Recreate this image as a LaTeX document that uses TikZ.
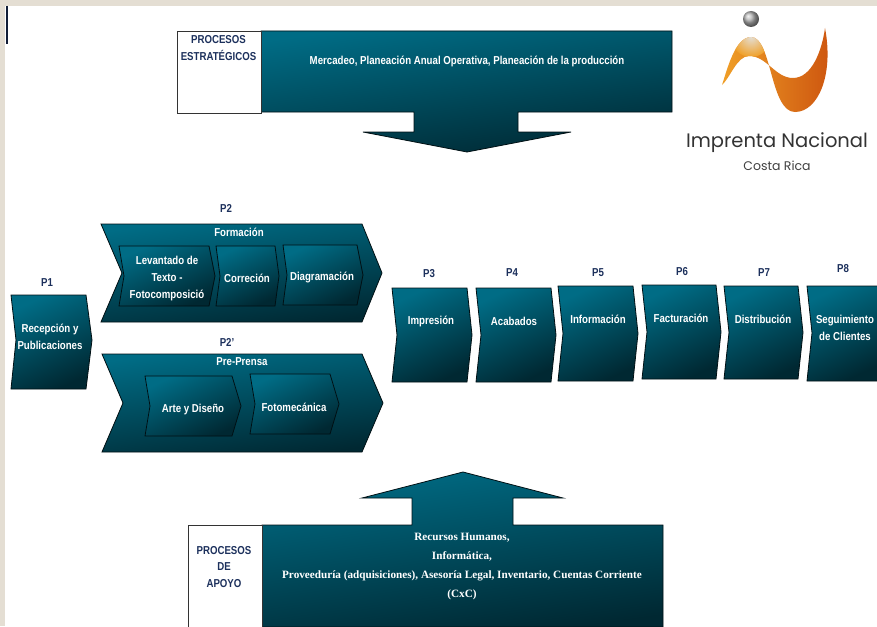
\documentclass[tikz,border=0pt]{standalone}
\usepackage{fontspec}
\setmainfont[FakeStretch=0.84]{Liberation Sans}
\newfontfamily\serifapoyo{Liberation Serif}
\newfontfamily\logofont{Poppins}
\usepackage{tikz}
\usetikzlibrary{calc}

\definecolor{tealtop}{RGB}{0,108,133}
\definecolor{tealmid}{RGB}{0,84,104}
\definecolor{tealbot}{RGB}{0,40,50}
\definecolor{navy}{RGB}{28,48,92}
\definecolor{marco}{RGB}{228,222,211}
\definecolor{naranja}{RGB}{240,160,40}
\definecolor{naranjab}{RGB}{205,85,15}

\tikzset{
  x=1pt,y=-1pt,
  pieza/.style={draw=black!60!tealbot,line width=0.8pt,top color=tealtop,middle color=tealmid,bottom color=tealbot,shading angle=25},
  banda/.style={pieza,shading angle=8},
  etq/.style={font=\bfseries\fontsize{11.5}{17}\selectfont,text=white,align=center,inner sep=0pt},
  etqp/.style={font=\bfseries\fontsize{11.5}{16.5}\selectfont,text=navy,align=center,inner sep=0pt},
  caja/.style={draw=black!80,line width=0.8pt,fill=white},
}

\begin{document}
\begin{tikzpicture}

\useasboundingbox (0,0) rectangle (877,626);
\fill[marco] (0,0) rectangle (877,626);
\fill[white] (5,6) rectangle (877,626);
\draw[navy!60!black,line width=1.2pt] (7,6) -- (7,44);

% estrategicos
\shade[banda] (261,31) -- (672,31) -- (672,112) -- (518,112) -- (518,132) -- (571,132)
  -- (467,152) -- (363,132) -- (414,132) -- (414,112) -- (261,112) -- cycle;
\node[caja,minimum width=84,minimum height=82,anchor=north west,inner sep=0pt] (estr) at (177,31) {};
\node[etqp] (estrt) at (218.5,48) {PROCESOS\\ESTRATÉGICOS};
\node[etq] (merc) at (467,61) {Mercadeo, Planeación Anual Operativa, Planeación de la producción};

% logo
\shade[ball color=gray!60] (751,19) circle (8);
\begin{scope}
\clip (722,85) .. controls (727,70) and (735,37) .. (751,37)
  .. controls (772,37) and (770,112) .. (795,112)
  .. controls (818,112) and (834,75) .. (825,28)
  .. controls (822,50) and (812,78) .. (793,78)
  .. controls (775,78) and (767,56) .. (749,56)
  .. controls (737,56) and (730,78) .. (722,85) -- cycle;
\shade[left color=naranja,right color=naranjab] (720,25) rectangle (832,115);
\shade[inner color=marco,outer color=naranja] (751,37) circle (20);
\end{scope}
\node[font=\logofont\fontsize{19.5}{22}\selectfont,text=black!80,inner sep=0pt] (imprenta) at (777,143) {Imprenta Nacional};
\node[font=\logofont\fontsize{12.5}{15}\selectfont,text=black!75,inner sep=0pt] (costa) at (777,166) {Costa Rica};

% P1
\node[etqp] (p1) at (47,283) {P1};
\shade[pieza] (11,295) -- (86,295) -- (92,340) -- (86,389) -- (11,389) -- (16,340) -- cycle;
\node[etq] (recep) at (50,337) {Recepción y\\Publicaciones};

% P2
\node[etqp] (p2) at (226,208) {P2};
\shade[banda] (101,224) -- (362,224) -- (382,273) -- (362,322) -- (101,322) -- (122,273) -- cycle;
\node[etq] (form) at (239,232) {Formación};
\shade[pieza] (119,246) -- (209,246) -- (215,276) -- (209,306) -- (119,306) -- (124,276) -- cycle;
\shade[pieza] (216,246) -- (275,246) -- (279,276) -- (275,306) -- (216,306) -- (220,276) -- cycle;
\shade[pieza] (283,245) -- (357,245) -- (363,275) -- (357,305) -- (283,305) -- (287,275) -- cycle;
\node[etq] (lev) at (167,279) {Levantado de\\Texto -\\Fotocomposició};
\node[etq] (corr) at (247,278) {Correción};
\node[etq] (diag) at (322,277) {Diagramación};

% P2'
\node[etqp] (p2b) at (227,342) {P2'};
\shade[banda] (102,354) -- (362,354) -- (383,403) -- (362,452) -- (102,452) -- (123,403) -- cycle;
\node[etq] (pre) at (242,362) {Pre-Prensa};
\shade[pieza] (145,376) -- (232,376) -- (241,406) -- (232,436) -- (145,436) -- (150,406) -- cycle;
\shade[pieza] (250,374) -- (330,374) -- (339,404) -- (330,434) -- (250,434) -- (255,404) -- cycle;
\node[etq] (arte) at (193,410) {Arte y Diseño};
\node[etq] (foto) at (294,407) {Fotomecánica};

% P3 a P8
\foreach \xa/\xb/\ya/\yb/\tx/\ty/\px/\py/\nm/\pn/\lab in {
  392/467/288/382/431/321/429/274/impr/P3/Impresión,
  476/551/288/382/514/321/512/273/acab/P4/Acabados,
  558/633/286/381/598/319/598/273/info/P5/Información,
  642/716/285/379/681/318/682/272/fact/P6/Facturación,
  724/798/286/379/763/319/764/273/dist/P7/Distribución}
{
  \shade[pieza] (\xa,\ya) -- (\xb,\ya) -- (\xb+5,{(\ya+\yb)/2}) -- (\xb,\yb) -- (\xa,\yb) -- (\xa+5,{(\ya+\yb)/2}) -- cycle;
  \node[etqp] (\nm top) at (\px,\py) {\pn};
  \node[etq] (\nm) at (\tx,\ty) {\lab};
}
\node[etqp] (p8) at (843,269) {P8};
\shade[pieza] (807,286) -- (878,286) -- (878,381) -- (807,381) -- (812,333) -- cycle;
\node[etq] (segu) at (845,328) {Seguimiento\\de Clientes};

% apoyo
\shade[banda] (262,525) -- (412,525) -- (412,498) -- (362,498) -- (463,472) -- (563,498) -- (513,498) -- (513,525)
  -- (663,525) -- (663,627) -- (262,627) -- cycle;
\node[caja,minimum width=74,minimum height=102,anchor=north west,inner sep=0pt] (apoyobox) at (188,525) {};
\node[etqp] (apoyo) at (224,567) {PROCESOS\\DE\\APOYO};
\node[etq,font=\serifapoyo\bfseries\fontsize{11.2}{19}\selectfont] (rec) at (462,566.5)
  {Recursos Humanos,\\Informática,\\Proveeduría (adquisiciones), Asesoría Legal, Inventario, Cuentas Corriente\\(CxC)};

\end{tikzpicture}
\end{document}
